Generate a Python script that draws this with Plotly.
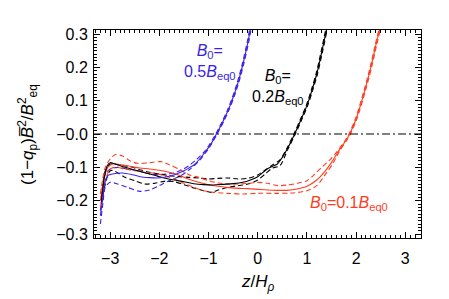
import plotly.graph_objects as go

# ---------------- data ----------------
# B0 = 0.5 Beq0 (blue)
blue_x = [-3.20, -3.15, -3.10, -3.05, -2.95, -2.75, -2.55, -2.39, -2.20, -2.05, -1.90, -1.78, -1.65,
          -1.52, -1.40, -1.30, -1.20, -1.10, -1.00, -0.90, -0.84, -0.70, -0.60, -0.50, -0.40, -0.30,
          -0.20, -0.12]
blue_y = [-0.245, -0.190, -0.140, -0.125, -0.120, -0.117, -0.122, -0.128, -0.131, -0.132, -0.130,
          -0.126, -0.120, -0.112, -0.102, -0.093, -0.078, -0.060, -0.040, -0.017, 0.000, 0.040,
          0.072, 0.110, 0.155, 0.210, 0.275, 0.340]
blue_up_x = [-3.20, -3.15, -3.10, -3.00, -2.85, -2.65, -2.45, -2.25, -2.05, -1.85, -1.70, -1.55,
             -1.40, -1.25, -1.10, -1.00, -0.855, -0.715, -0.615, -0.515, -0.415, -0.315, -0.215,
             -0.135]
blue_up_y = [-0.230, -0.170, -0.120, -0.105, -0.100, -0.105, -0.110, -0.118, -0.122, -0.120,
             -0.117, -0.108, -0.095, -0.077, -0.055, -0.036, 0.000, 0.040, 0.072, 0.110, 0.155,
             0.210, 0.275, 0.340]
blue_lo_x = [-3.20, -3.15, -3.10, -3.00, -2.85, -2.65, -2.40, -2.20, -2.00, -1.80, -1.60, -1.40,
             -1.20, -1.00, -0.825, -0.685, -0.585, -0.485, -0.385, -0.285, -0.185, -0.105]
blue_lo_y = [-0.270, -0.210, -0.160, -0.145, -0.150, -0.160, -0.172, -0.168, -0.155, -0.140,
             -0.128, -0.108, -0.082, -0.044, 0.000, 0.040, 0.072, 0.110, 0.155, 0.210, 0.275, 0.340]

# B0 = 0.2 Beq0 (black)
black_x = [-3.18, -3.12, -3.06, -3.00, -2.90, -2.70, -2.50, -2.30, -2.10, -1.90, -1.70, -1.50, -1.30,
           -1.10, -0.90, -0.70, -0.50, -0.30, -0.15, 0.00, 0.10, 0.20, 0.30, 0.40, 0.50, 0.60, 0.75,
           0.90, 1.00, 1.10, 1.20, 1.30, 1.40, 1.45]
black_y = [-0.200, -0.130, -0.095, -0.086, -0.090, -0.100, -0.108, -0.116, -0.124, -0.132, -0.138,
           -0.143, -0.149, -0.152, -0.153, -0.151, -0.149, -0.145, -0.138, -0.128, -0.116, -0.104,
           -0.097, -0.090, -0.070, -0.045, 0.000, 0.050, 0.085, 0.130, 0.180, 0.245, 0.315, 0.350]
black_up_x = [-3.18, -3.10, -3.00, -2.85, -2.60, -2.40, -2.20, -2.00, -1.80, -1.60, -1.40, -1.20,
              -1.00, -0.80, -0.60, -0.40, -0.20, 0.00, 0.15, 0.30, 0.45, 0.585, 0.735, 0.885,
              0.985, 1.085, 1.185, 1.285, 1.385, 1.435]
black_up_y = [-0.190, -0.110, -0.090, -0.092, -0.098, -0.107, -0.115, -0.120, -0.125, -0.128,
              -0.130, -0.132, -0.135, -0.133, -0.132, -0.135, -0.133, -0.123, -0.108, -0.093,
              -0.078, -0.045, 0.000, 0.050, 0.085, 0.130, 0.180, 0.245, 0.315, 0.350]
black_lo_x = [-3.18, -3.10, -3.00, -2.90, -2.70, -2.50, -2.30, -2.10, -1.90, -1.70, -1.50, -1.30,
              -1.10, -0.95, -0.80, -0.60, -0.40, -0.20, 0.00, 0.15, 0.30, 0.45, 0.615, 0.765,
              0.915, 1.015, 1.115, 1.215, 1.315, 1.415, 1.465]
black_lo_y = [-0.210, -0.150, -0.110, -0.112, -0.130, -0.140, -0.150, -0.148, -0.142, -0.143,
              -0.152, -0.162, -0.170, -0.175, -0.168, -0.160, -0.155, -0.150, -0.138, -0.120,
              -0.102, -0.095, -0.045, 0.000, 0.050, 0.085, 0.130, 0.180, 0.245, 0.315, 0.350]

# B0 = 0.1 Beq0 (red)
red_x = [-3.20, -3.12, -3.05, -2.95, -2.80, -2.60, -2.40, -2.20, -2.00, -1.80, -1.60, -1.40, -1.20,
         -1.00, -0.80, -0.60, -0.40, -0.20, 0.00, 0.20, 0.40, 0.60, 0.80, 1.00, 1.20, 1.35, 1.50,
         1.65, 1.80, 1.87, 2.00, 2.17, 2.30, 2.40, 2.48, 2.52]
red_y = [-0.200, -0.130, -0.100, -0.090, -0.092, -0.097, -0.102, -0.105, -0.109, -0.115, -0.124,
         -0.136, -0.145, -0.152, -0.157, -0.161, -0.163, -0.164, -0.166, -0.168, -0.169, -0.169,
         -0.165, -0.157, -0.138, -0.115, -0.085, -0.050, -0.018, 0.000, 0.045, 0.127, 0.200, 0.265,
         0.315, 0.350]
red_up_x = [-3.20, -3.10, -3.00, -2.90, -2.75, -2.60, -2.45, -2.20, -1.97, -1.80, -1.57, -1.40,
            -1.20, -1.00, -0.80, -0.60, -0.40, -0.20, 0.00, 0.20, 0.40, 0.60, 0.80, 1.00, 1.15,
            1.30, 1.45, 1.60, 1.785, 1.855, 1.985, 2.155, 2.285, 2.385, 2.465, 2.505]
red_up_y = [-0.180, -0.100, -0.075, -0.062, -0.066, -0.080, -0.088, -0.086, -0.083, -0.092, -0.108,
            -0.122, -0.130, -0.140, -0.147, -0.150, -0.150, -0.148, -0.145, -0.148, -0.155, -0.153,
            -0.148, -0.140, -0.122, -0.100, -0.080, -0.055, -0.018, 0.000, 0.045, 0.127, 0.200,
            0.265, 0.315, 0.350]
red_lo_x = [-3.20, -3.10, -3.00, -2.90, -2.70, -2.50, -2.30, -2.10, -1.90, -1.70, -1.50, -1.30,
            -1.10, -0.90, -0.60, -0.30, 0.00, 0.40, 0.70, 1.00, 1.20, 1.39, 1.53, 1.67, 1.815, 1.885,
            2.015, 2.185, 2.315, 2.415, 2.495, 2.535]
red_lo_y = [-0.220, -0.140, -0.105, -0.100, -0.105, -0.110, -0.115, -0.118, -0.125, -0.135, -0.148,
            -0.160, -0.170, -0.175, -0.178, -0.180, -0.178, -0.178, -0.177, -0.170, -0.155, -0.118,
            -0.088, -0.050, -0.018, 0.000, 0.045, 0.127, 0.200, 0.265, 0.315, 0.350]

x_ticks = [-3, -2, -1, 0, 1, 2, 3]
x_tick_text = ["−3", "−2", "−1", "0", "1", "2", "3"]
y_ticks = [-0.3, -0.2, -0.1, 0.0, 0.1, 0.2, 0.3]
y_tick_text = ["−0.3", "−0.2", "−0.1", "−0.0", "0.1", "0.2", "0.3"]

BLUE = "#3b1fe8"
BLACK = "#000000"
RED = "#ff3c1e"
FONT = "Liberation Sans, Arial, Helvetica, sans-serif"

fig = go.Figure()

def add(x, y, color, dash):
    fig.add_trace(go.Scatter(x=x, y=y, mode="lines", showlegend=False, hoverinfo="skip",
                             line=dict(color=color, width=1.1, dash=dash, shape="spline",
                                       smoothing=0.8)))

DASH = "5px,3px"
for (xs, ys, c) in [(blue_up_x, blue_up_y, BLUE), (blue_lo_x, blue_lo_y, BLUE),
                    (black_up_x, black_up_y, BLACK), (black_lo_x, black_lo_y, BLACK),
                    (red_up_x, red_up_y, RED), (red_lo_x, red_lo_y, RED)]:
    add(xs, ys, c, DASH)
add(red_x, red_y, RED, "solid")
add(black_x, black_y, BLACK, "solid")
add(blue_x, blue_y, BLUE, "solid")

fig.add_hline(y=0, line=dict(color="black", width=1, dash="8px,3px,2px,3px"))

fig.add_annotation(x=-0.97, y=0.215, xref="x", yref="y", showarrow=False, align="center",
                   text="<i>B</i><sub>0</sub>=<br>0.5<i>B</i><sub>eq0</sub>",
                   font=dict(color=BLUE, size=16, family=FONT))
fig.add_annotation(x=0.42, y=0.142, xref="x", yref="y", showarrow=False, align="center",
                   text="<i>B</i><sub>0</sub>=<br>0.2<i>B</i><sub>eq0</sub>",
                   font=dict(color=BLACK, size=16, family=FONT))
fig.add_annotation(x=1.85, y=-0.207, xref="x", yref="y", showarrow=False, align="center",
                   text="<i>B</i><sub>0</sub>=0.1<i>B</i><sub>eq0</sub>",
                   font=dict(color=RED, size=16, family=FONT))

# axis titles as annotations (precise placement)
fig.add_annotation(x=-0.205, y=0.5, xref="paper", yref="paper", showarrow=False,
                   xanchor="center", yanchor="middle", textangle=-90,
                   text="(1−<i>q</i><sub>p</sub>)<i>B̅</i><sup>2</sup>/<i>B</i><sup>2</sup><sub>eq</sub>",
                   font=dict(size=17, family=FONT, color="black"))
fig.add_annotation(x=0.5, y=-0.216, xref="paper", yref="paper", showarrow=False,
                   xanchor="center", yanchor="middle",
                   text="<i>z</i>/<i>H</i><sub><i>ρ</i></sub>",
                   font=dict(size=17, family=FONT, color="black"))

axis_common = dict(showgrid=False, zeroline=False, showline=True, linecolor="black",
                   linewidth=1, mirror="allticks", ticks="inside", ticklen=6, tickwidth=1,
                   tickcolor="black", automargin=False,
                   tickfont=dict(size=16, family=FONT, color="black"))

fig.update_xaxes(range=[-3.33, 3.32], tickvals=x_ticks, ticktext=x_tick_text,
                 ticklabelstandoff=6,
                 minor=dict(dtick=0.1, ticks="inside", ticklen=3, tickcolor="black", tickwidth=1),
                 **axis_common)
fig.update_yaxes(range=[-0.312, 0.312], tickvals=y_ticks, ticktext=y_tick_text,
                 ticklabelstandoff=2,
                 minor=dict(dtick=0.01, ticks="inside", ticklen=3, tickcolor="black", tickwidth=1),
                 **axis_common)

fig.update_layout(width=449, height=299, margin=dict(l=94, r=28, t=30, b=61),
                  paper_bgcolor="white", plot_bgcolor="white",
                  font=dict(family=FONT, color="black"))

fig.write_html("out.html", config={"displayModeBar": False},
               post_script="document.body.style.margin='0px';")
